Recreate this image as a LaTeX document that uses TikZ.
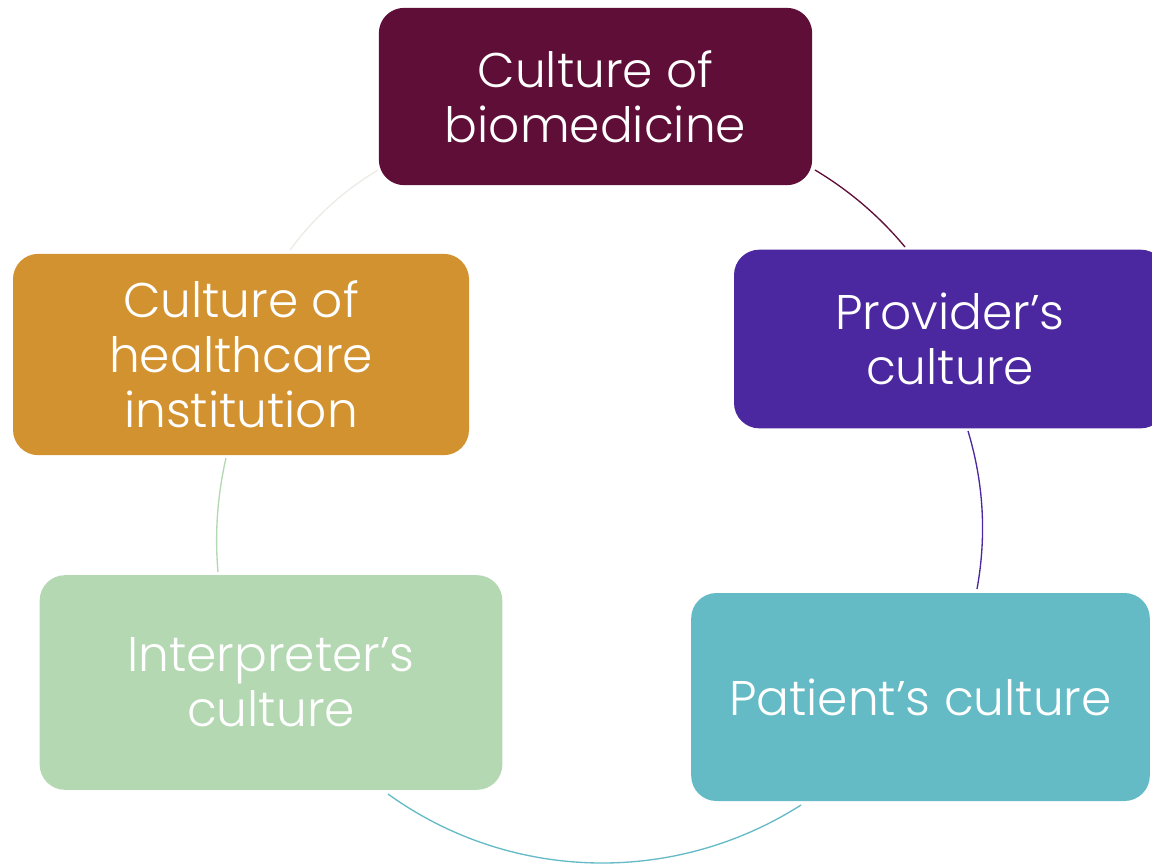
\documentclass[tikz,border=0pt]{standalone}
\usepackage{fontspec}
\setmainfont{Poppins}[UprightFont=* Light]
\usepackage{tikz}

\definecolor{biocol}{HTML}{5E0E37}
\definecolor{provcol}{HTML}{4B28A0}
\definecolor{patcol}{HTML}{64BBC6}
\definecolor{intcol}{HTML}{B3D8B2}
\definecolor{instcol}{HTML}{D29230}
\definecolor{fadecol}{HTML}{EEEBE6}

\tikzset{
  culture/.style={rectangle, rounded corners=19pt, text=white, align=center,
    font=\fontsize{36.5}{41.3}\selectfont, inner sep=0pt},
  link/.style={line width=1pt}
}

\begin{document}
\begin{tikzpicture}[x=0.75pt,y=-0.75pt]

      \useasboundingbox (0,0) rectangle (1152,864);

      \begin{scope}[every node/.style={culture}]
        \node[fill=biocol,  minimum width=325pt, minimum height=133pt] (bio)  at (595.5,96.5) {Culture of\\biomedicine};
        \node[fill=provcol, minimum width=324pt, minimum height=134pt] (prov) at (950,339)   {Provider's\\culture};
        \node[fill=patcol,  minimum width=344pt, minimum height=156pt] (pat)  at (920.5,697) {Patient's culture};
        \node[fill=intcol,  minimum width=347pt, minimum height=161pt] (int)  at (271,682.5) {Interpreter's\\culture};
        \node[fill=instcol, minimum width=342pt, minimum height=151pt] (inst) at (241,354.5) {Culture of\\healthcare\\institution};
      \end{scope}

      % arc ends
      \coordinate (inst-out) at (290,250);
      \coordinate (bio-in)   at (378,170);
      \coordinate (bio-out)  at (815,170);
      \coordinate (prov-in)  at (905,247);
      \coordinate (prov-out) at (968,431);
      \coordinate (pat-in)   at (977,589);
      \coordinate (pat-out)  at (801,805);
      \coordinate (int-in)   at (388,794);
      \coordinate (int-out)  at (218,572);
      \coordinate (inst-in)  at (226,458);

      \draw[link,fadecol]  (inst-out) .. controls +(24,-32.6) and +(-34.7,20.8) .. (bio-in);
      \draw[link,biocol]   (bio-out)  .. controls +(34.4,20.6) and +(-25.6,-30.8) .. (prov-in);
      \draw[link,provcol]  (prov-out) .. controls +(15.7,52) and +(9.7,-53.4) .. (pat-in);
      \draw[link,patcol]   (pat-out)  .. controls +(-127,81) and +(122,88) .. (int-in);
      \draw[link,intcol]   (int-out)  .. controls +(-3.3,-38) and +(-8.7,38) .. (inst-in);

    \end{tikzpicture}
\end{document}
